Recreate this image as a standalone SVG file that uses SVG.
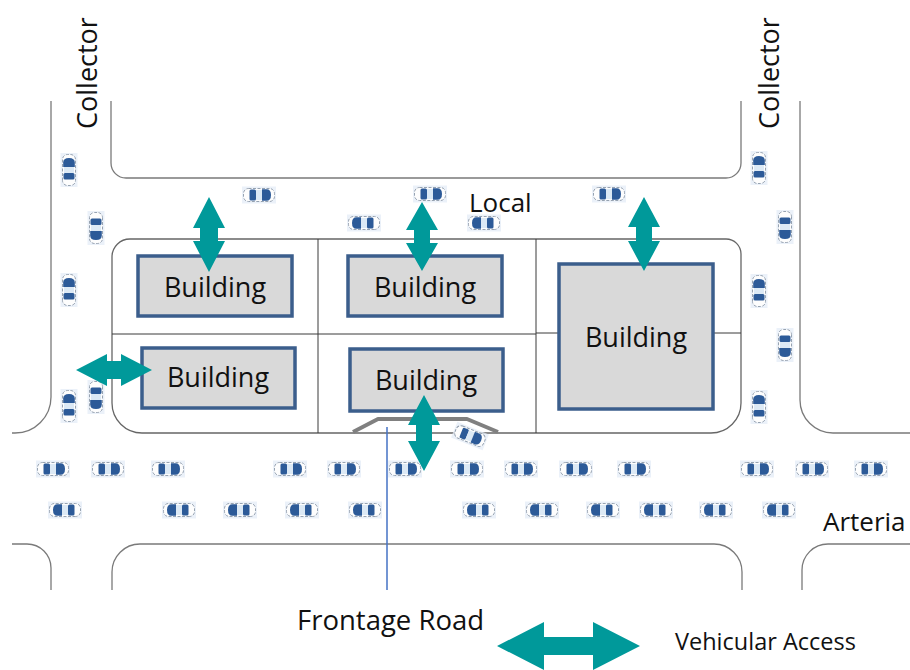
<svg xmlns="http://www.w3.org/2000/svg" xmlns:xlink="http://www.w3.org/1999/xlink" width="910" height="670" viewBox="0 0 910 670">
  <style>
    .road { fill: none; stroke: #7a7a7a; stroke-width: 1.3; }
    .block { fill: none; stroke: #666; stroke-width: 1.3; }
    .div { fill: none; stroke: #3a3a3a; stroke-width: 1; }
    .bldg { fill: #d9d9d9; stroke: #3b5e8c; stroke-width: 3.5; }
    .lbl { font-family: "Open Sans", "Noto Sans", "DejaVu Sans", sans-serif; fill: #111; }
    .bt { font-size: 27px; text-anchor: middle; }
    .acc { fill: #00999a; stroke: none; }
    .front { fill: none; stroke: #808080; stroke-width: 4; stroke-linejoin: round; }
    .fline { stroke: #4472c4; stroke-width: 1.5; }
  </style>
  <defs>
    <!-- small car, facing +x, centred on the origin -->
    <g id="car">
      <rect x="-17" y="-8.5" width="34" height="17" fill="#e4ecf7" opacity="0.75"/>
      <rect x="-15.5" y="-6.5" width="31" height="13" rx="5" fill="#fdfdfd" stroke="#8c99a8" stroke-width="0.9" stroke-dasharray="3 1.5"/>
      <rect x="-9.5" y="-5.5" width="6.5" height="11" rx="1.5" fill="#2c5a98"/>
      <rect x="-3" y="-5" width="6" height="10" fill="#dce9f5"/>
      <path d="M3,-5.8 H7.5 Q12,-5.8 12,0 Q12,5.8 7.5,5.8 H3 Z" fill="#2c5a98"/>
    </g>
  </defs>

  <rect width="910" height="670" fill="#fff"/>

  <!-- street edges -->
  <g id="roads">
    <path class="road" d="M51,101 V397 A36,36 0 0 1 15,433 H12"/>
    <path class="road" d="M111,101 V163 A15,15 0 0 0 126,178 H726 A15,15 0 0 0 741,163 V101"/>
    <path class="road" d="M800,101 V400 A33,33 0 0 0 833,433 H910"/>
    <path class="road" d="M12,544 H27 A24,24 0 0 1 51,568 V590"/>
    <path class="road" d="M112,590 V572 A28,28 0 0 1 140,544 H714 A28,28 0 0 1 742,572 V590"/>
    <path class="road" d="M802,590 V570 A26,26 0 0 1 828,544 H910"/>
  </g>

  <!-- central block with lot lines -->
  <g id="block">
    <path class="block" d="M130,239 H726 A15,15 0 0 1 741,254 V403 A30,30 0 0 1 711,433 H142 A30,30 0 0 1 112,403 V257 A18,18 0 0 1 130,239 Z"/>
    <path class="div" d="M318,239 V433 M536,239 V433 M112,334 H536 M536,333 H559 M713,333 H741"/>
  </g>

  <!-- buildings -->
  <g id="building1"><rect class="bldg" x="138" y="256" width="154" height="60"/><text class="lbl bt" x="215" y="297">Building</text></g>
  <g id="building2"><rect class="bldg" x="348" y="256" width="154" height="60"/><text class="lbl bt" x="425" y="297">Building</text></g>
  <g id="building3"><rect class="bldg" x="142" y="348" width="153" height="60"/><text class="lbl bt" x="218" y="387">Building</text></g>
  <g id="building4"><rect class="bldg" x="350" y="349" width="153" height="62"/><text class="lbl bt" x="426" y="390">Building</text></g>
  <g id="building5"><rect class="bldg" x="559" y="264" width="154" height="145"/><text class="lbl bt" x="636" y="347">Building</text></g>

  <!-- frontage road -->
  <g id="frontage">
    <polyline class="front" points="353,432 378,419 467,419 498,432"/>
    <line class="fline" x1="387" y1="427" x2="387" y2="590"/>
  </g>

  <!-- traffic -->
  <g id="cars">
    <!-- arterial, eastbound -->
    <use xlink:href="#car" href="#car" transform="translate(53,469)"/>
    <use xlink:href="#car" href="#car" transform="translate(108,469)"/>
    <use xlink:href="#car" href="#car" transform="translate(168,469)"/>
    <use xlink:href="#car" href="#car" transform="translate(290,469)"/>
    <use xlink:href="#car" href="#car" transform="translate(344,469)"/>
    <use xlink:href="#car" href="#car" transform="translate(405,469)"/>
    <use xlink:href="#car" href="#car" transform="translate(467,469)"/>
    <use xlink:href="#car" href="#car" transform="translate(521,469)"/>
    <use xlink:href="#car" href="#car" transform="translate(576,469)"/>
    <use xlink:href="#car" href="#car" transform="translate(634,469)"/>
    <use xlink:href="#car" href="#car" transform="translate(757,469)"/>
    <use xlink:href="#car" href="#car" transform="translate(812,469)"/>
    <use xlink:href="#car" href="#car" transform="translate(871,469)"/>
    <!-- arterial, westbound -->
    <use xlink:href="#car" href="#car" transform="translate(65,510) rotate(180)"/>
    <use xlink:href="#car" href="#car" transform="translate(179,510) rotate(180)"/>
    <use xlink:href="#car" href="#car" transform="translate(240,510) rotate(180)"/>
    <use xlink:href="#car" href="#car" transform="translate(302,510) rotate(180)"/>
    <use xlink:href="#car" href="#car" transform="translate(365,510) rotate(180)"/>
    <use xlink:href="#car" href="#car" transform="translate(479,510) rotate(180)"/>
    <use xlink:href="#car" href="#car" transform="translate(542,510) rotate(180)"/>
    <use xlink:href="#car" href="#car" transform="translate(603,510) rotate(180)"/>
    <use xlink:href="#car" href="#car" transform="translate(656,510) rotate(180)"/>
    <use xlink:href="#car" href="#car" transform="translate(716,510) rotate(180)"/>
    <use xlink:href="#car" href="#car" transform="translate(779,510) rotate(180)"/>
    <!-- car entering the frontage road -->
    <use xlink:href="#car" href="#car" transform="translate(470,436) rotate(22)"/>
    <!-- local street -->
    <use xlink:href="#car" href="#car" transform="translate(259,195)"/>
    <use xlink:href="#car" href="#car" transform="translate(430,194)"/>
    <use xlink:href="#car" href="#car" transform="translate(609,194)"/>
    <use xlink:href="#car" href="#car" transform="translate(364,223) rotate(180)"/>
    <use xlink:href="#car" href="#car" transform="translate(484,223) rotate(180)"/>
    <!-- left collector -->
    <use xlink:href="#car" href="#car" transform="translate(69,170) rotate(-90)"/>
    <use xlink:href="#car" href="#car" transform="translate(69,290) rotate(-90)"/>
    <use xlink:href="#car" href="#car" transform="translate(69,406) rotate(-90)"/>
    <use xlink:href="#car" href="#car" transform="translate(96,228) rotate(90)"/>
    <use xlink:href="#car" href="#car" transform="translate(96,397) rotate(90)"/>
    <!-- right collector -->
    <use xlink:href="#car" href="#car" transform="translate(759,168) rotate(-90)"/>
    <use xlink:href="#car" href="#car" transform="translate(759,291) rotate(-90)"/>
    <use xlink:href="#car" href="#car" transform="translate(759,407) rotate(-90)"/>
    <use xlink:href="#car" href="#car" transform="translate(785,227) rotate(90)"/>
    <use xlink:href="#car" href="#car" transform="translate(785,345) rotate(90)"/>
  </g>

  <!-- vehicular access arrows -->
  <g id="connectors">
    <path class="acc" d="M209,197 L225,228 L218,228 L218,241 L225,241 L209,272 L193,241 L200,241 L200,228 L193,228 Z"/>
    <path class="acc" d="M422,202 L438,230 L430,230 L430,243 L438,243 L422,271 L406,243 L414,243 L414,230 L406,230 Z"/>
    <path class="acc" d="M644,197 L660,227 L652,227 L652,241 L660,241 L644,271 L628,241 L636,241 L636,227 L628,227 Z"/>
    <path class="acc" d="M76,370 L107,354 L107,361 L121,361 L121,354 L152,370 L121,386 L121,379 L107,379 L107,386 Z"/>
    <path class="acc" d="M424,395 L440,425 L432,425 L432,441 L440,441 L424,471 L408,441 L416,441 L416,425 L408,425 Z"/>
  </g>

  <!-- street names -->
  <g id="labels">
    <text class="lbl" font-size="27" transform="translate(97,129) rotate(-90)">Collector</text>
    <text class="lbl" font-size="27" transform="translate(779,129) rotate(-90)">Collector</text>
    <text class="lbl" font-size="26" x="469" y="212">Local</text>
    <text class="lbl" font-size="26" x="823" y="531">Arteria</text>
    <text class="lbl" font-size="27.5" x="297" y="630">Frontage Road</text>
  </g>

  <!-- legend -->
  <g id="legend">
    <path class="acc" d="M497,646 L544,622 L544,637 L593,637 L593,622 L640,646 L593,670 L593,655 L544,655 L544,670 Z"/>
    <text class="lbl" font-size="23.5" x="675" y="650">Vehicular Access</text>
  </g>
</svg>
